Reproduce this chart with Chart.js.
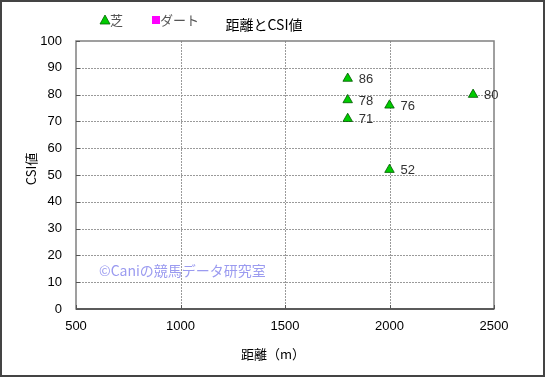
<!DOCTYPE html>
<html><head><meta charset="utf-8">
<script src="https://cdn.jsdelivr.net/npm/chart.js@4"></script>
<style>html,body{margin:0;padding:0;background:#fff;}#wrap{width:545px;height:377px;position:relative;}</style>
</head><body><div id="wrap"><canvas id="c" width="545" height="377"></canvas></div>
<script>
const distances = [1800, 1800, 1800, 2000, 2000, 2400];
const csiValues = [86, 78, 71, 76, 52, 80];
const dirtDistances = [];
const dirtValues = [];
const xTicks = [500, 1000, 1500, 2000, 2500];
const yTicks = [0, 10, 20, 30, 40, 50, 60, 70, 80, 90, 100];
const titleText = '距離とCSI値';
const xTitle = '距離（m）';
const yTitle = 'CSI値';
const seriesNames = ['芝', 'ダート'];
const watermark = '©Caniの競馬データ研究室';

const JP = '"Noto Sans CJK JP", "DejaVu Sans", sans-serif';
const NUM = '"Liberation Sans", Arial, sans-serif';

const turf = distances.map((d, i) => ({x: d, y: csiValues[i]}));
const dirt = dirtDistances.map((d, i) => ({x: d, y: dirtValues[i]}));

const deco = {
  id: 'deco',
  beforeDraw(chart) {
    const ctx = chart.ctx;
    ctx.save();
    ctx.fillStyle = '#fff';
    ctx.fillRect(0, 0, chart.width, chart.height);
    ctx.restore();
  },
  beforeDatasetsDraw(chart) {
    const ctx = chart.ctx;
    const a = chart.chartArea;
    const ys = chart.scales.y, xs = chart.scales.x;
    ctx.save();
    ctx.strokeStyle = '#9a9a9a';
    ctx.lineWidth = 1;
    ctx.setLineDash([2, 1]);
    yTicks.forEach(v => { if (v === 0 || v === 100) return; const py = Math.round(ys.getPixelForValue(v)) + 0.5; ctx.beginPath(); ctx.moveTo(a.left, py); ctx.lineTo(a.right, py); ctx.stroke(); });
    xTicks.forEach(v => { if (v === 500 || v === 2500) return; const px = Math.round(xs.getPixelForValue(v)) + 0.5; ctx.beginPath(); ctx.moveTo(px, a.top); ctx.lineTo(px, a.bottom); ctx.stroke(); });
    ctx.restore();
  },
  afterDatasetsDraw(chart) {
    const ctx = chart.ctx;
    const a = chart.chartArea;
    ctx.save();
    ctx.strokeStyle = '#808080';
    ctx.lineWidth = 1.5;
    ctx.strokeRect(a.left, a.top, a.right - a.left, a.bottom - a.top);
    ctx.strokeStyle = '#444';
    ctx.lineWidth = 1.5;
    ctx.beginPath(); ctx.moveTo(a.left, a.bottom); ctx.lineTo(a.right, a.bottom); ctx.stroke();
    ctx.strokeStyle = '#555';
    ctx.lineWidth = 1;
    const ys = chart.scales.y, xs = chart.scales.x;
    yTicks.forEach(v => { const py = Math.round(ys.getPixelForValue(v)) + 0.5; ctx.beginPath(); ctx.moveTo(a.left, py); ctx.lineTo(a.left + 4, py); ctx.stroke(); });
    xTicks.forEach(v => { const px = Math.round(xs.getPixelForValue(v)) + 0.5; ctx.beginPath(); ctx.moveTo(px, a.bottom); ctx.lineTo(px, a.bottom - 4); ctx.stroke(); });
    ctx.fillStyle = '#333';
    ctx.font = '13px ' + NUM;
    ctx.textAlign = 'left';
    ctx.textBaseline = 'middle';
    const meta = chart.getDatasetMeta(0);
    meta.data.forEach((pt, i) => {
      ctx.fillText(String(csiValues[i]), pt.x + 11, pt.y + 1);
    });
    ctx.fillStyle = '#9b9bf0';
    ctx.font = '14px ' + JP;
    ctx.textBaseline = 'middle';
    ctx.fillText(watermark, 99, 271);
    ctx.fillStyle = '#000';
    ctx.font = '14px ' + JP;
    ctx.textAlign = 'center';
    ctx.fillText(titleText, 264, 25);
    ctx.textAlign = 'left';
    ctx.fillStyle = '#00cc00';
    ctx.strokeStyle = '#006600';
    ctx.lineWidth = 0.8;
    ctx.beginPath(); ctx.moveTo(100, 24); ctx.lineTo(105, 15); ctx.lineTo(110, 24); ctx.closePath(); ctx.fill(); ctx.stroke();
    ctx.fillStyle = '#555';
    ctx.font = '13px ' + JP;
    ctx.fillText(seriesNames[0], 110, 20);
    ctx.fillStyle = '#ff00ff';
    ctx.fillRect(152, 16, 8, 8);
    ctx.fillStyle = '#555';
    ctx.fillText(seriesNames[1], 160, 20);
    ctx.fillStyle = '#000';
    ctx.font = '13px ' + JP;
    ctx.textAlign = 'center';
    ctx.fillText(xTitle, 273, 354);
    ctx.save();
    ctx.translate(31, 169);
    ctx.rotate(-Math.PI / 2);
    ctx.fillText(yTitle, 0, 0);
    ctx.restore();
    ctx.strokeStyle = '#444';
    ctx.lineWidth = 2;
    ctx.strokeRect(1, 1, chart.width - 2, chart.height - 2);
    ctx.restore();
  }
};

new Chart(document.getElementById('c'), {
  type: 'scatter',
  data: {
    datasets: [
      { label: seriesNames[0], data: turf, pointStyle: 'triangle', pointRadius: 5.5, pointHoverRadius: 5.5,
        backgroundColor: '#00cc00', borderColor: '#005500', borderWidth: 0.8 },
      { label: seriesNames[1], data: dirt, pointStyle: 'rect', pointRadius: 4,
        backgroundColor: '#ff00ff', borderColor: '#ff00ff' }
    ]
  },
  options: {
    responsive: false,
    animation: false,
    events: [],
    layout: { padding: { left: 0, top: 41, right: 51, bottom: 0 } },
    plugins: { legend: { display: false }, title: { display: false }, tooltip: { enabled: false } },
    scales: {
      x: {
        type: 'linear', min: 500, max: 2500,
        afterBuildTicks: s => { s.ticks = xTicks.map(v => ({value: v})); },
        afterFit: s => { s.height = 68; },
        grid: { display: false, drawTicks: false },
        border: { display: false },
        ticks: { color: '#000', font: { family: NUM, size: 13 }, padding: 10, maxRotation: 0, callback: v => String(v) }
      },
      y: {
        type: 'linear', min: 0, max: 100,
        afterBuildTicks: s => { s.ticks = yTicks.map(v => ({value: v})); },
        afterFit: s => { s.width = 76; },
        grid: { display: false, drawTicks: false },
        border: { display: false },
        ticks: { color: '#000', font: { family: NUM, size: 13 }, padding: 14, callback: v => String(v) }
      }
    }
  },
  plugins: [deco]
});
</script></body></html>
